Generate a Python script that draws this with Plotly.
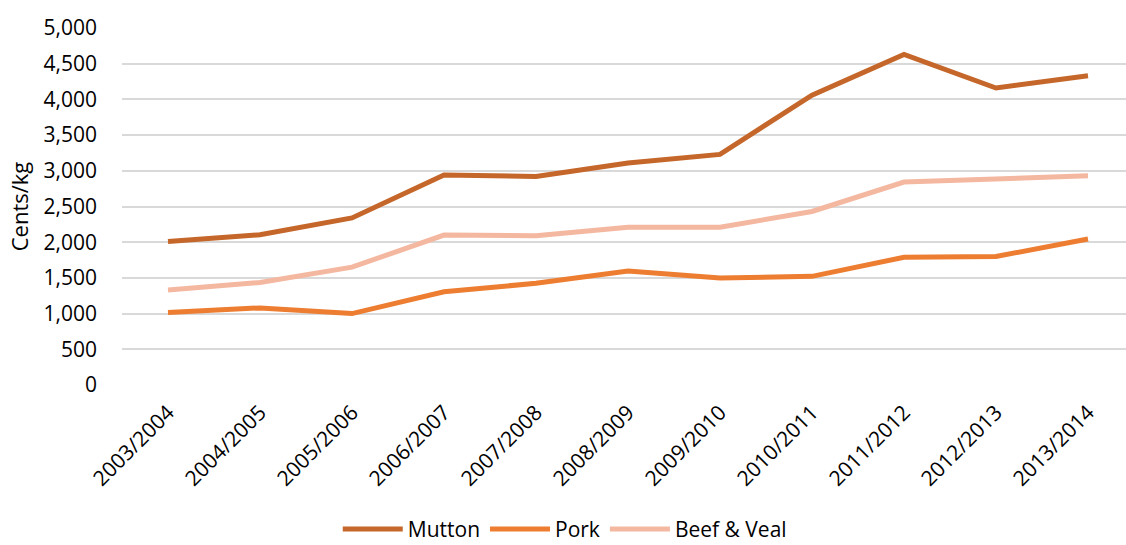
import plotly.graph_objects as go

# Seasons on the category axis
seasons = ["2003/2004", "2004/2005", "2005/2006", "2006/2007", "2007/2008",
           "2008/2009", "2009/2010", "2010/2011", "2011/2012", "2012/2013",
           "2013/2014"]

# Prices in cents per kg
mutton = [2010, 2105, 2340, 2940, 2920, 3110, 3230, 4060, 4630, 4160, 4330]
pork = [1015, 1080, 1000, 1305, 1425, 1595, 1500, 1522, 1788, 1800, 2045]
beef_veal = [1330, 1435, 1650, 2100, 2090, 2210, 2210, 2430, 2842, 2888, 2930]

y_ticks = [0, 500, 1000, 1500, 2000, 2500, 3000, 3500, 4000, 4500, 5000]

FONT = "Open Sans"
SIZE = 21

series = [
    ("Mutton", mutton, "#C5672A"),
    ("Pork", pork, "#ED7D31"),
    ("Beef & Veal", beef_veal, "#F4B7A0"),
]

fig = go.Figure()
for name, values, color in series:
    fig.add_trace(go.Scatter(
        x=seasons, y=values, name=name, mode="lines",
        line=dict(color=color, width=5, shape="linear"),
    ))

fig.update_layout(
    width=1126, height=545,
    margin=dict(l=122, r=0, t=28, b=159.5, autoexpand=False),
    paper_bgcolor="white", plot_bgcolor="white",
    font=dict(family=FONT, size=SIZE, color="#000000"),
    showlegend=True,
    legend=dict(
        orientation="h", x=0.441, xanchor="center", y=-0.404, yanchor="middle",
        font=dict(family=FONT, size=SIZE, color="#000000"),
        itemwidth=60, traceorder="normal",
    ),
    xaxis=dict(
        type="category", range=[-0.5, 10.413], automargin=False,
        showgrid=False, showline=False, zeroline=False,
        tickangle=-45, ticks="", ticklabelstandoff=10,
        tickfont=dict(family=FONT, size=SIZE, color="#000000"),
    ),
    yaxis=dict(
        range=[0, 5000], tickvals=y_ticks, tickformat=",d", automargin=False,
        showgrid=True, gridcolor="#D9D9D9", gridwidth=1.5,
        zeroline=False, showline=False, ticks="",
        ticklabelstandoff=24,
        tickfont=dict(family=FONT, size=SIZE, color="#000000"),
        title=dict(text="Cents/kg", standoff=8,
                   font=dict(family=FONT, size=22, color="#000000")),
    ),
)

fig.write_html("out.html")
